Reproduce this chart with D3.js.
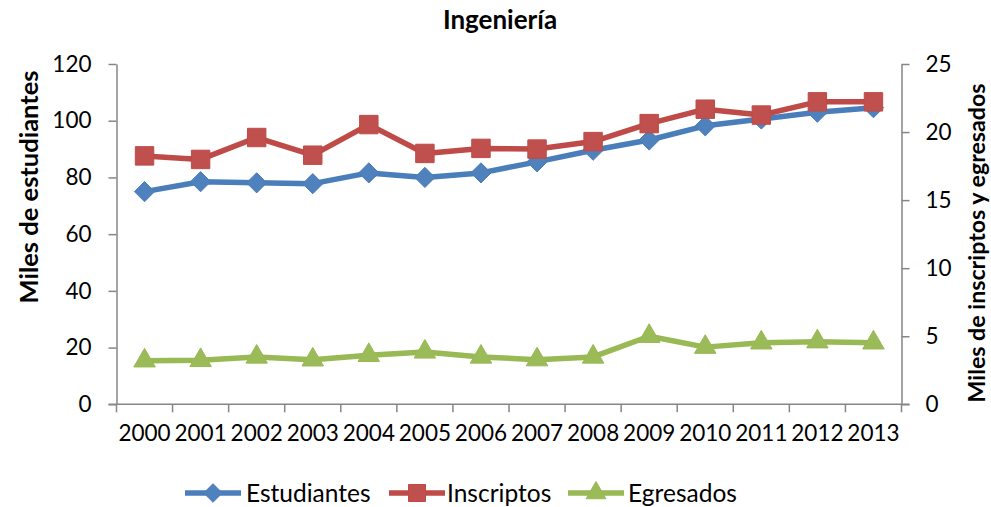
<!DOCTYPE html>
<html>
<head>
<meta charset="utf-8">
<script src="https://cdn.jsdelivr.net/npm/d3@7"></script>
<style>
  html, body { margin: 0; padding: 0; background: #fff; }
  svg { display: block; font-family: Lato, "Open Sans", sans-serif; }
</style>
</head>
<body>
<svg id="chart" width="991" height="507"></svg>
<script>
// Enrolment figures for engineering, 2000–2013
const years = ["2000","2001","2002","2003","2004","2005","2006","2007","2008","2009","2010","2011","2012","2013"];
// thousands of students (left axis)
const estudiantes = [75.0, 78.5, 78.1, 77.8, 81.6, 80.0, 81.6, 85.5, 89.6, 93.2, 98.2, 100.6, 103.0, 104.6];
// thousands of new enrolments (right axis)
const inscriptos = [18.25, 17.99, 19.6, 18.3, 20.55, 18.43, 18.8, 18.75, 19.3, 20.62, 21.68, 21.25, 22.22, 22.22];
// thousands of graduates (right axis)
const egresados = [3.2, 3.23, 3.48, 3.27, 3.6, 3.85, 3.48, 3.28, 3.48, 5.0, 4.2, 4.52, 4.6, 4.52];

const leftTicks = [0, 20, 40, 60, 80, 100, 120];
const rightTicks = [0, 5, 10, 15, 20, 25];

const seriesInfo = [
  { name: "Estudiantes", values: estudiantes, axis: "left",  color: "#4A7EBB", fill: "#4F81BD", symbol: d3.symbolDiamond2 },
  { name: "Inscriptos",  values: inscriptos,  axis: "right", color: "#BE4B48", fill: "#C0504D", symbol: d3.symbolSquare },
  { name: "Egresados",   values: egresados,   axis: "right", color: "#98B954", fill: "#9BBB59", symbol: d3.symbolTriangle }
];

const svg = d3.select("#chart");
const plot = { left: 116.5, right: 901.5, top: 64, bottom: 404.3 };
const axisColor = "#868686";

const x = d3.scaleBand().domain(years).range([plot.left, plot.right]).paddingInner(0).paddingOuter(0);
const yL = d3.scaleLinear().domain([0, 120]).range([plot.bottom, plot.top]);
const yR = d3.scaleLinear().domain([0, 25]).range([plot.bottom, plot.top]);

// Title
svg.append("text")
  .attr("x", 500).attr("y", 29)
  .attr("text-anchor", "middle")
  .attr("font-weight", "bold")
  .attr("font-size", 26)
  .attr("fill", "#000")
  .text("Ingeniería");

// Left axis
const gL = svg.append("g").attr("transform", `translate(${plot.left},0)`)
  .call(d3.axisLeft(yL).tickValues(leftTicks).tickSizeInner(8).tickSizeOuter(0).tickPadding(17));
// Right axis
const gR = svg.append("g").attr("transform", `translate(${plot.right},0)`)
  .call(d3.axisRight(yR).tickValues(rightTicks).tickSizeInner(8).tickSizeOuter(0).tickPadding(16));

[gL, gR].forEach(g => {
  g.select(".domain").attr("stroke", axisColor).attr("stroke-width", 1.5);
  g.selectAll(".tick line").attr("stroke", axisColor).attr("stroke-width", 1.5);
  g.selectAll(".tick text").attr("fill", "#000").attr("font-size", 22.5).attr("font-family", "Lato, sans-serif");
});

// Bottom axis: labels centred on categories, ticks on category boundaries
const gB = svg.append("g").attr("transform", `translate(0,${plot.bottom})`)
  .call(d3.axisBottom(x).tickSize(0).tickPadding(0));
gB.select(".domain").remove();
gB.selectAll(".tick text")
  .attr("fill", "#000").attr("font-size", 22.5).attr("font-family", "Lato, sans-serif")
  .attr("dy", null).attr("y", 36.5);
gB.append("line")
  .attr("x1", plot.left - 8).attr("x2", plot.right + 8)
  .attr("y1", 0).attr("y2", 0)
  .attr("stroke", axisColor).attr("stroke-width", 1.5);
const boundaries = years.map(d => x(d)).concat([x(years[years.length - 1]) + x.bandwidth()]);
gB.selectAll("line.bound").data(boundaries).join("line")
  .attr("class", "bound")
  .attr("x1", d => d).attr("x2", d => d)
  .attr("y1", 0).attr("y2", 8)
  .attr("stroke", axisColor).attr("stroke-width", 1.5);

// Axis titles
svg.append("text")
  .attr("transform", `translate(38,187) rotate(-90)`)
  .attr("text-anchor", "middle")
  .attr("font-weight", "bold").attr("font-size", 25.5)
  .text("Miles de estudiantes");
svg.append("text")
  .attr("transform", `translate(985,243) rotate(-90)`)
  .attr("text-anchor", "middle")
  .attr("font-weight", "bold").attr("font-size", 23.2)
  .text("Miles de inscriptos y egresados");

// Series lines and markers
const cx = d => x(d) + x.bandwidth() / 2;
const markerSize = { "Estudiantes": 260, "Inscriptos": 340, "Egresados": 200 };

seriesInfo.forEach(s => {
  const yS = s.axis === "left" ? yL : yR;
  const pts = years.map((yr, i) => [cx(yr), yS(s.values[i])]);
  svg.append("path")
    .attr("d", d3.line()(pts))
    .attr("fill", "none")
    .attr("stroke", s.color)
    .attr("stroke-width", 5.5)
    .attr("stroke-linejoin", "round");
  svg.append("g").selectAll("path").data(pts).join("path")
    .attr("transform", p => `translate(${p[0]},${p[1]})`)
    .attr("d", d3.symbol().type(s.symbol).size(markerSize[s.name]))
    .attr("fill", s.fill)
    .attr("stroke", s.color)
    .attr("stroke-width", 1);
});

// Legend
const legendItems = [
  { x0: 185, tx: 246 },
  { x0: 389, tx: 447 },
  { x0: 568, tx: 628 }
];
const legendY = 493;
seriesInfo.forEach((s, i) => {
  const li = legendItems[i];
  const g = svg.append("g");
  g.append("line")
    .attr("x1", li.x0).attr("x2", li.x0 + 56)
    .attr("y1", legendY).attr("y2", legendY)
    .attr("stroke", s.color).attr("stroke-width", 5.5);
  g.append("path")
    .attr("transform", `translate(${li.x0 + 28},${legendY})`)
    .attr("d", d3.symbol().type(s.symbol).size(markerSize[s.name] * 0.85))
    .attr("fill", s.fill).attr("stroke", s.color).attr("stroke-width", 1);
  g.append("text")
    .attr("x", li.tx).attr("y", legendY + 9)
    .attr("font-size", 24.5)
    .attr("fill", "#000")
    .text(s.name);
});
</script>
</body>
</html>
